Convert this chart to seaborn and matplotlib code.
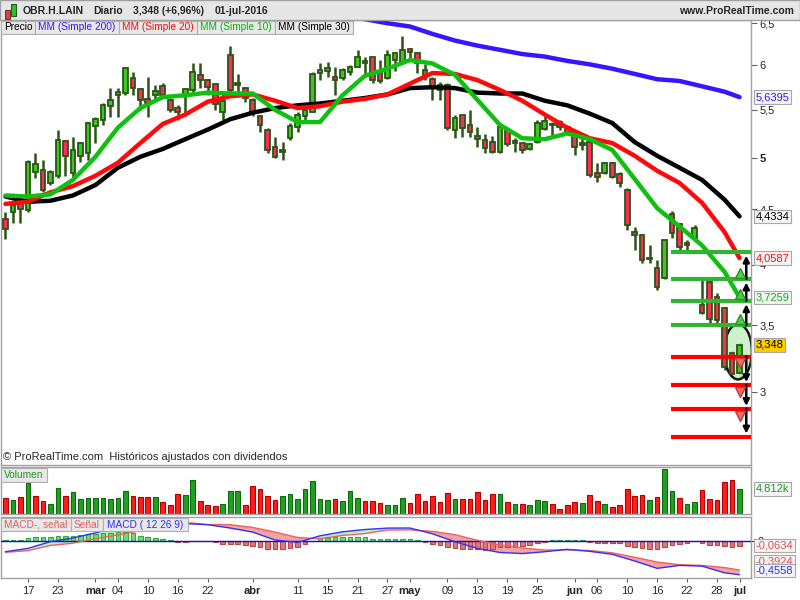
import numpy as np
import pandas as pd
import matplotlib
matplotlib.use("Agg")
import matplotlib.pyplot as plt
from matplotlib.patches import Ellipse, Rectangle
import seaborn as sns

festivos = ["2016-03-25", "2016-03-28"]

opens = [4.41, 4.47, 4.56, 4.49, 4.86, 4.88, 4.75, 4.82, 5.17, 4.85,
         5.02, 5.05, 5.33, 5.39, 5.54, 5.66, 5.68, 5.85, 5.73, 5.62,
         5.66, 5.76, 5.61, 5.52, 5.66, 5.72, 5.89, 5.83, 5.79, 5.48,
         6.12, 5.78, 5.74, 5.61, 5.43, 5.29, 5.11, 5.06, 5.20, 5.32,
         5.43, 5.48, 5.91, 5.93, 5.86, 5.85, 5.92, 5.98, 6.05, 6.09,
         5.92, 5.85, 6.06, 6.04, 6.19, 6.14, 5.95, 5.84, 5.78, 5.78,
         5.29, 5.45, 5.34, 5.22, 5.18, 5.16, 5.06, 5.29, 5.17, 5.15,
         5.09, 5.16, 5.30, 5.34, 5.37, 5.32, 5.26, 5.13, 5.16, 4.85,
         4.85, 4.95, 4.84, 4.68, 4.29, 4.26, 4.06, 3.97, 3.89, 4.46,
         4.36, 4.19, 4.24, 3.66, 3.85, 3.73, 3.64, 3.29, 3.14]
highs = [4.47, 4.58, 4.63, 4.98, 5.05, 4.98, 4.88, 5.29, 5.18, 5.21,
         5.16, 5.37, 5.42, 5.57, 5.74, 5.74, 5.98, 5.92, 5.74, 5.87,
         5.78, 5.80, 5.63, 5.55, 5.74, 6.02, 6.03, 5.84, 5.80, 5.69,
         6.22, 5.90, 5.75, 5.63, 5.45, 5.31, 5.21, 5.16, 5.36, 5.48,
         5.56, 5.92, 6.03, 6.04, 5.98, 5.97, 6.00, 6.18, 6.09, 6.09,
         6.06, 6.18, 6.16, 6.34, 6.20, 6.16, 6.01, 5.86, 5.81, 5.80,
         5.45, 5.45, 5.50, 5.32, 5.24, 5.22, 5.34, 5.32, 5.20, 5.15,
         5.15, 5.39, 5.45, 5.37, 5.39, 5.34, 5.27, 5.21, 5.18, 4.95,
         4.96, 4.96, 4.86, 4.70, 4.34, 4.27, 4.17, 4.04, 4.22, 4.48,
         4.37, 4.22, 4.35, 3.87, 3.87, 3.76, 3.65, 3.31, 3.37]
lows = [4.23, 4.37, 4.37, 4.47, 4.80, 4.66, 4.73, 4.80, 4.82, 4.81,
        4.96, 4.98, 5.15, 5.34, 5.42, 5.42, 5.66, 5.66, 5.50, 5.42,
        5.61, 5.64, 5.48, 5.39, 5.43, 5.69, 5.74, 5.66, 5.50, 5.39,
        5.70, 5.70, 5.59, 5.43, 5.27, 5.05, 5.00, 4.98, 5.18, 5.27,
        5.39, 5.48, 5.83, 5.86, 5.66, 5.83, 5.89, 5.98, 5.86, 5.80,
        5.80, 5.84, 5.93, 6.02, 6.06, 5.91, 5.83, 5.61, 5.61, 5.29,
        5.20, 5.21, 5.21, 5.11, 5.05, 5.05, 5.05, 5.12, 5.06, 5.05,
        5.08, 5.15, 5.29, 5.23, 5.29, 5.25, 5.03, 5.08, 4.81, 4.76,
        4.84, 4.80, 4.71, 4.31, 4.13, 4.02, 4.02, 3.79, 3.88, 4.24,
        4.13, 4.13, 4.22, 3.59, 3.52, 3.52, 3.16, 3.11, 3.10]
closes = [4.32, 4.54, 4.50, 4.96, 4.94, 4.68, 4.86, 5.18, 5.02, 5.08,
          5.15, 5.36, 5.40, 5.55, 5.61, 5.70, 5.97, 5.74, 5.61, 5.58,
          5.71, 5.66, 5.50, 5.48, 5.73, 5.92, 5.83, 5.75, 5.56, 5.60,
          5.72, 5.80, 5.63, 5.47, 5.34, 5.08, 5.01, 5.08, 5.33, 5.44,
          5.50, 5.90, 5.95, 5.97, 5.83, 5.95, 5.98, 6.10, 6.02, 5.83,
          5.82, 6.12, 6.14, 6.18, 6.16, 6.02, 5.86, 5.75, 5.72, 5.31,
          5.41, 5.31, 5.26, 5.19, 5.10, 5.06, 5.32, 5.14, 5.15, 5.08,
          5.14, 5.36, 5.38, 5.35, 5.32, 5.26, 5.11, 5.15, 4.83, 4.81,
          4.95, 4.81, 4.75, 4.35, 4.26, 4.04, 4.05, 3.81, 4.22, 4.28,
          4.16, 4.17, 4.33, 3.60, 3.55, 3.54, 3.18, 3.13, 3.348]
volumes = [3050, 2730, 3250, 5970, 3500, 2530, 1950, 5000, 3500, 4220,
           2860, 3050, 3050, 3050, 2860, 3050, 4480, 3500, 3250, 3250,
           3250, 2340, 1750, 3890, 3700, 6620, 2530, 1750, 1560, 1950,
           4480, 4480, 1750, 5450, 4870, 3500, 2730, 3500, 3890, 2860,
           4870, 6420, 2860, 2730, 2860, 2530, 4480, 3050, 2530, 2530,
           2080, 1750, 1750, 3050, 2080, 3890, 2530, 3500, 2340, 4020,
           2860, 2860, 2860, 4220, 2660, 3890, 3890, 2340, 1950, 1950,
           1750, 2660, 2470, 1950, 910, 1750, 2340, 2140, 3700, 2470,
           1950, 1360, 1750, 4870, 3500, 3700, 2730, 3310, 8570, 4480,
           3120, 1950, 2340, 4670, 2920, 2730, 6230, 6620, 4812]

# medias moviles leidas cada 3 sesiones
ma_idx = list(range(0, 97, 3)) + [98]
sma10 = [4.63, 4.62, 4.64, 4.78, 5.01, 5.31, 5.52, 5.64, 5.66, 5.69, 5.68, 5.68,
         5.50, 5.37, 5.37, 5.66, 5.88, 5.96, 6.06, 6.02, 5.89, 5.61, 5.34, 5.20,
         5.19, 5.25, 5.19, 5.08, 4.79, 4.51, 4.34, 4.17, 3.94, 3.7259]
sma20 = [4.55, 4.57, 4.66, 4.72, 4.82, 4.95, 5.15, 5.35, 5.45, 5.59, 5.65, 5.67,
         5.60, 5.52, 5.54, 5.59, 5.62, 5.67, 5.79, 5.91, 5.90, 5.83, 5.72, 5.60,
         5.45, 5.31, 5.20, 5.15, 5.02, 4.87, 4.75, 4.56, 4.29, 4.0587]
sma30 = [4.62, 4.57, 4.58, 4.63, 4.73, 4.90, 5.01, 5.09, 5.19, 5.29, 5.40, 5.47,
         5.52, 5.55, 5.57, 5.60, 5.63, 5.67, 5.74, 5.75, 5.74, 5.69, 5.68, 5.68,
         5.60, 5.55, 5.46, 5.36, 5.16, 5.02, 4.90, 4.78, 4.59, 4.4334]
sma200_idx = list(range(45, 97, 3)) + [98]
sma200 = [6.60, 6.55, 6.50, 6.46, 6.37, 6.29, 6.23, 6.18, 6.13, 6.10, 6.05, 6.01,
          5.96, 5.90, 5.84, 5.82, 5.76, 5.70, 5.6395]

macd_hist = [0.014, 0.014, 0.014, 0.036, 0.050, 0.050, 0.050, 0.072, 0.072, 0.072,
             0.081, 0.090, 0.095, 0.104, 0.104, 0.117, 0.126, 0.104, 0.072, 0.059,
             0.041, 0.027, 0.014, -0.018, -0.018, -0.002, -0.002, -0.002, -0.018, -0.045,
             -0.045, -0.045, -0.054, -0.063, -0.077, -0.108, -0.113, -0.113, -0.099, -0.077,
             -0.045, -0.002, 0.036, 0.045, 0.050, 0.050, 0.054, 0.054, 0.054, 0.027,
             0.027, 0.027, 0.027, 0.027, 0.027, 0.014, -0.018, -0.045, -0.054, -0.086,
             -0.099, -0.108, -0.108, -0.108, -0.122, -0.113, -0.086, -0.077, -0.077, -0.068,
             -0.054, -0.032, -0.009, 0.014, 0.014, 0.014, 0.014, 0.009, -0.018, -0.027,
             -0.027, -0.027, -0.032, -0.068, -0.086, -0.099, -0.108, -0.108, -0.086, -0.054,
             -0.041, -0.032, -0.005, -0.032, -0.054, -0.054, -0.068, -0.086, -0.0634]
macd_line = [-0.145, -0.10, -0.009, 0.04, 0.11, 0.185, 0.215, 0.235, 0.235, 0.22, 0.175, 0.12,
             0.013, -0.02, 0.07, 0.124, 0.155, 0.174, 0.175, 0.097, -0.01, -0.10, -0.155, -0.17,
             -0.145, -0.113, -0.14, -0.18, -0.27, -0.37, -0.33, -0.34, -0.43, -0.4558]
macd_signal = [-0.153, -0.13, -0.06, -0.03, 0.03, 0.08, 0.14, 0.21, 0.25, 0.222, 0.22, 0.183,
               0.12, 0.047, 0.03, 0.075, 0.10, 0.148, 0.15, 0.13, 0.085, 0.01, -0.054, -0.095,
               -0.122, -0.12, -0.128, -0.16, -0.22, -0.285, -0.32, -0.33, -0.36, -0.3924]

niveles_verdes = [4.11, 3.88, 3.70, 3.50]
niveles_rojos = [3.26, 3.05, 2.88, 2.69]
inicio_niveles = "2016-06-20"

etiquetas_fecha = [("2016-02-17", "17"), ("2016-02-23", "23"), ("2016-03-01", "mar"),
                   ("2016-03-04", "04"), ("2016-03-10", "10"), ("2016-03-16", "16"),
                   ("2016-03-22", "22"), ("2016-04-01", "abr"), ("2016-04-11", "11"),
                   ("2016-04-15", "15"), ("2016-04-21", "21"), ("2016-04-27", "27"),
                   ("2016-05-02", "may"), ("2016-05-09", "09"), ("2016-05-13", "13"),
                   ("2016-05-19", "19"), ("2016-05-25", "25"), ("2016-06-01", "jun"),
                   ("2016-06-06", "06"), ("2016-06-10", "10"), ("2016-06-16", "16"),
                   ("2016-06-22", "22"), ("2016-06-28", "28"), ("2016-07-01", "jul")]
meses = ["mar", "abr", "may", "jun", "jul"]

precio_ticks = [3, 3.5, 4, 4.5, 5, 5.5, 6, 6.5]

# --- estilo ---
sns.set_style("white")
plt.rcParams['font.family'] = ['Liberation Sans', 'DejaVu Sans']

GRIS = '#a0a0a0'
MECHA = '#2b5416'
VERDE_VELA = '#3ec81e'
ROJO_VELA = '#ff2d55'


def coma(v):
    return ('%g' % v).replace('.', ',')


dias = pd.bdate_range("2016-02-12", "2016-07-01")
dias = dias[~dias.isin(pd.to_datetime(festivos))]
pos = {d: i for i, d in enumerate(dias)}
x = np.arange(len(dias))
o, h, l, c = map(np.array, (opens, highs, lows, closes))

W, H = 800, 600
fig = plt.figure(figsize=(8, 6), dpi=100)
ax_p = fig.add_axes([1 / W, 1 - 465 / H, 750 / W, 445 / H])
ax_v = fig.add_axes([1 / W, 1 - 514 / H, 750 / W, 47 / H])
ax_m = fig.add_axes([1 / W, 1 - 578 / H, 750 / W, 61 / H])
xlim = (-0.6, 99.53)

for ax in (ax_p, ax_v, ax_m):
    ax.set_xlim(*xlim)
    for s in ax.spines.values():
        s.set_color(GRIS)
        s.set_linewidth(1)
    ax.set_facecolor('white')

# --- precio ---
ax_p.set_yscale('function', functions=(lambda p: np.log(np.asarray(p) + 1.9),
                                       lambda v: np.exp(v) - 1.9))
ax_p.set_ylim(2.503, 6.54)

sube = c >= o
ax_p.vlines(x, l, h, color=MECHA, lw=1.8, zorder=2)
ax_p.bar(x, np.maximum(np.abs(c - o), 0.012), bottom=np.minimum(o, c), width=0.62,
         color=np.where(sube, VERDE_VELA, ROJO_VELA), edgecolor=MECHA, linewidth=1.3, zorder=3)

sns.lineplot(x=sma200_idx, y=sma200, ax=ax_p, color='#3a14ff', linewidth=3.2, zorder=4)
sns.lineplot(x=ma_idx, y=sma30, ax=ax_p, color='black', linewidth=3.2, zorder=4)
sns.lineplot(x=ma_idx, y=sma20, ax=ax_p, color='#ff0a0a', linewidth=3.2, zorder=4)
sns.lineplot(x=ma_idx, y=sma10, ax=ax_p, color='#10c010', linewidth=3.2, zorder=4)

x0 = pos[pd.Timestamp(inicio_niveles)] - 0.1
ax_p.hlines(niveles_verdes, x0, xlim[1], color='#33b233', lw=3, zorder=5)
ax_p.hlines(niveles_rojos, x0, xlim[1], color='#ff0000', lw=3, zorder=5)

ax_p.add_patch(Ellipse((97.8, 3.30), 3.7, 0.42, fc='#c8f0c8', ec='black', lw=1.8,
                       alpha=0.9, zorder=2.5))

xa = 98.9
for a, b in zip(niveles_verdes[1:], niveles_verdes[:-1]):
    ax_p.annotate('', xy=(xa, b - 0.03), xytext=(xa, a),
                  arrowprops=dict(arrowstyle='-|>', color='black', lw=1.8,
                                  mutation_scale=9, shrinkA=0, shrinkB=0), zorder=6)
    ax_p.plot(98.1, a + 0.05, marker='^', ms=7, color='#48d048', mec='#2a902a', zorder=6)
for a, b in zip(niveles_rojos[:-1], niveles_rojos[1:]):
    ax_p.annotate('', xy=(xa, b + 0.02), xytext=(xa, a),
                  arrowprops=dict(arrowstyle='-|>', color='black', lw=1.8,
                                  mutation_scale=9, shrinkA=0, shrinkB=0), zorder=6)
    ax_p.plot(98.1, a - 0.05, marker='v', ms=7, color='#f06a6a', mec='#c03a3a', zorder=6)

ax_p.yaxis.tick_right()
ax_p.set_yticks(precio_ticks)
ax_p.set_yticklabels([coma(t) for t in precio_ticks])
ax_p.yaxis.set_minor_locator(matplotlib.ticker.NullLocator())
ax_p.tick_params(axis='y', direction='out', length=4, width=0.8, color='#606060',
                 labelsize=8, pad=2)
ax_p.get_yticklabels()[4].set_fontweight('bold')
ax_p.set_xticks([])
ax_p.set_xlabel('')
ax_p.set_ylabel('')


def caja(ax, y, txt, color, fc='#f5f5f5', dy=0):
    ax.annotate(txt, xy=(1, y), xycoords=ax.get_yaxis_transform(),
                xytext=(3.5, dy), textcoords='offset points', color=color, fontsize=8,
                va='center', ha='left', zorder=10, annotation_clip=False,
                bbox=dict(boxstyle='square,pad=0.15', fc=fc, ec='#a8a8a8', lw=0.8))


caja(ax_p, sma200[-1], coma(sma200[-1]), '#3a14ff')
caja(ax_p, sma30[-1], coma(sma30[-1]), 'black')
caja(ax_p, sma20[-1], coma(sma20[-1]), '#ff0a0a')
caja(ax_p, sma10[-1], coma(sma10[-1]), '#10b010')
caja(ax_p, closes[-1], coma(closes[-1]), 'black', fc='#ffcc00')

ax_p.text(0.003, 0.018, '© ProRealTime.com  Históricos ajustados con dividendos',
          transform=ax_p.transAxes, fontsize=8, va='center', ha='left')

# --- volumen ---
v = np.array(volumes)
vsube = np.r_[c[0] >= o[0], c[1:] >= c[:-1]]
ax_v.bar(x, v, width=0.62, color=np.where(vsube, '#22a022', '#ff1c1c'),
         edgecolor=np.where(vsube, '#0d6a0d', '#b40000'), linewidth=0.8)
ax_v.set_ylim(0, 9020)
ax_v.set_xticks([])
ax_v.set_yticks([])
caja(ax_v, volumes[-1], '%.3fk' % (volumes[-1] / 1000), '#1f9a1f')

# --- MACD ---
xm = np.array(ma_idx)
ml, ms = np.array(macd_line), np.array(macd_signal)
hist = np.array(macd_hist)
ax_m.fill_between(xm, ml, ms, where=ml >= ms, interpolate=True, color='#bdf0bd', lw=0)
ax_m.fill_between(xm, ml, ms, where=ml < ms, interpolate=True, color='#f2a4a4', lw=0)
ax_m.bar(x, hist, width=0.62, color=np.where(hist >= 0, '#70dc70', '#e47676'),
         edgecolor=np.where(hist >= 0, '#38a838', '#b84848'), linewidth=0.8, zorder=3)
ax_m.axhline(0, color='#1010d0', lw=1, zorder=4)
sns.lineplot(x=ma_idx, y=macd_signal, ax=ax_m, color='#f06060', linewidth=1, zorder=4)
sns.lineplot(x=ma_idx, y=macd_line, ax=ax_m, color='#3030ff', linewidth=1, zorder=4)
ax_m.set_ylim(-0.50, 0.324)
ax_m.set_ylabel('')
ax_m.yaxis.tick_right()
ax_m.set_yticks([0])
ax_m.set_yticklabels(['0'])
ax_m.tick_params(axis='y', length=3, labelsize=8, pad=2)
caja(ax_m, macd_hist[-1], coma(macd_hist[-1]), '#e05050')
caja(ax_m, macd_signal[-1], coma(macd_signal[-1]), '#e05050', dy=6)
caja(ax_m, macd_line[-1], coma(macd_line[-1]), '#3030ff', dy=3)

tpos = [pos[pd.Timestamp(d)] for d, _ in etiquetas_fecha]
ax_m.set_xticks(tpos)
ax_m.set_xticklabels([t for _, t in etiquetas_fecha])
ax_m.tick_params(axis='x', direction='out', length=3, width=0.8, color='#606060',
                 labelsize=8, pad=3, bottom=True)
for t in ax_m.get_xticklabels():
    if t.get_text() in meses:
        t.set_fontweight('bold')
ax_m.set_xlabel('')

# --- barra de titulo y leyendas ---
fig.add_artist(Rectangle((0, 1 - 20 / H), 1, 20 / H, transform=fig.transFigure,
                         fc='#e6e6e6', ec=GRIS, lw=1))
fig.add_artist(Rectangle((5 / W, 1 - 19 / H), 5 / W, 9 / H, transform=fig.transFigure,
                         fc='#e04040', ec='#803030', lw=0.8))
fig.add_artist(Rectangle((11 / W, 1 - 16 / H), 5 / W, 12 / H, transform=fig.transFigure,
                         fc='#30c030', ec='#206020', lw=0.8))
for px, txt in [(23, 'OBR.H.LAIN'), (93, 'Diario'), (133, '3,348 (+6,96%)'),
                (215, '01-jul-2016')]:
    fig.text(px / W, 1 - 11 / H, txt, fontsize=7.5, fontweight='bold', va='center')
fig.text(794 / W, 1 - 11 / H, 'www.ProRealTime.com', fontsize=7.5, fontweight='bold',
         va='center', ha='right')


def etiquetas(items, ytop, alto):
    for x1, x2, txt, col in items:
        fig.add_artist(Rectangle((x1 / W, 1 - (ytop + alto) / H), (x2 - x1) / W, alto / H,
                                 transform=fig.transFigure, fc='#e8e8e8', ec='#b0b0b0',
                                 lw=0.8, zorder=20))
        fig.text((x1 + x2) / 2 / W, 1 - (ytop + alto / 2) / H, txt, color=col,
                 fontsize=7.3, va='center', ha='center', zorder=21)


etiquetas([(1, 35, 'Precio', 'black'), (35, 119, 'MM (Simple 200)', '#3a14ff'),
           (119, 197, 'MM (Simple 20)', '#ff0a0a'), (197, 275, 'MM (Simple 10)', '#10b010'),
           (275, 353, 'MM (Simple 30)', 'black')], 20.5, 13.5)
etiquetas([(1, 47, 'Volumen', '#1f9a1f')], 468, 13.5)
etiquetas([(1, 71, 'MACD-, señal', '#e06060'), (71, 103, 'Señal', '#e06060'),
           (103, 188, 'MACD ( 12 26 9)', '#3030ff')], 518, 13)

fig.savefig('out.png', dpi=100)
